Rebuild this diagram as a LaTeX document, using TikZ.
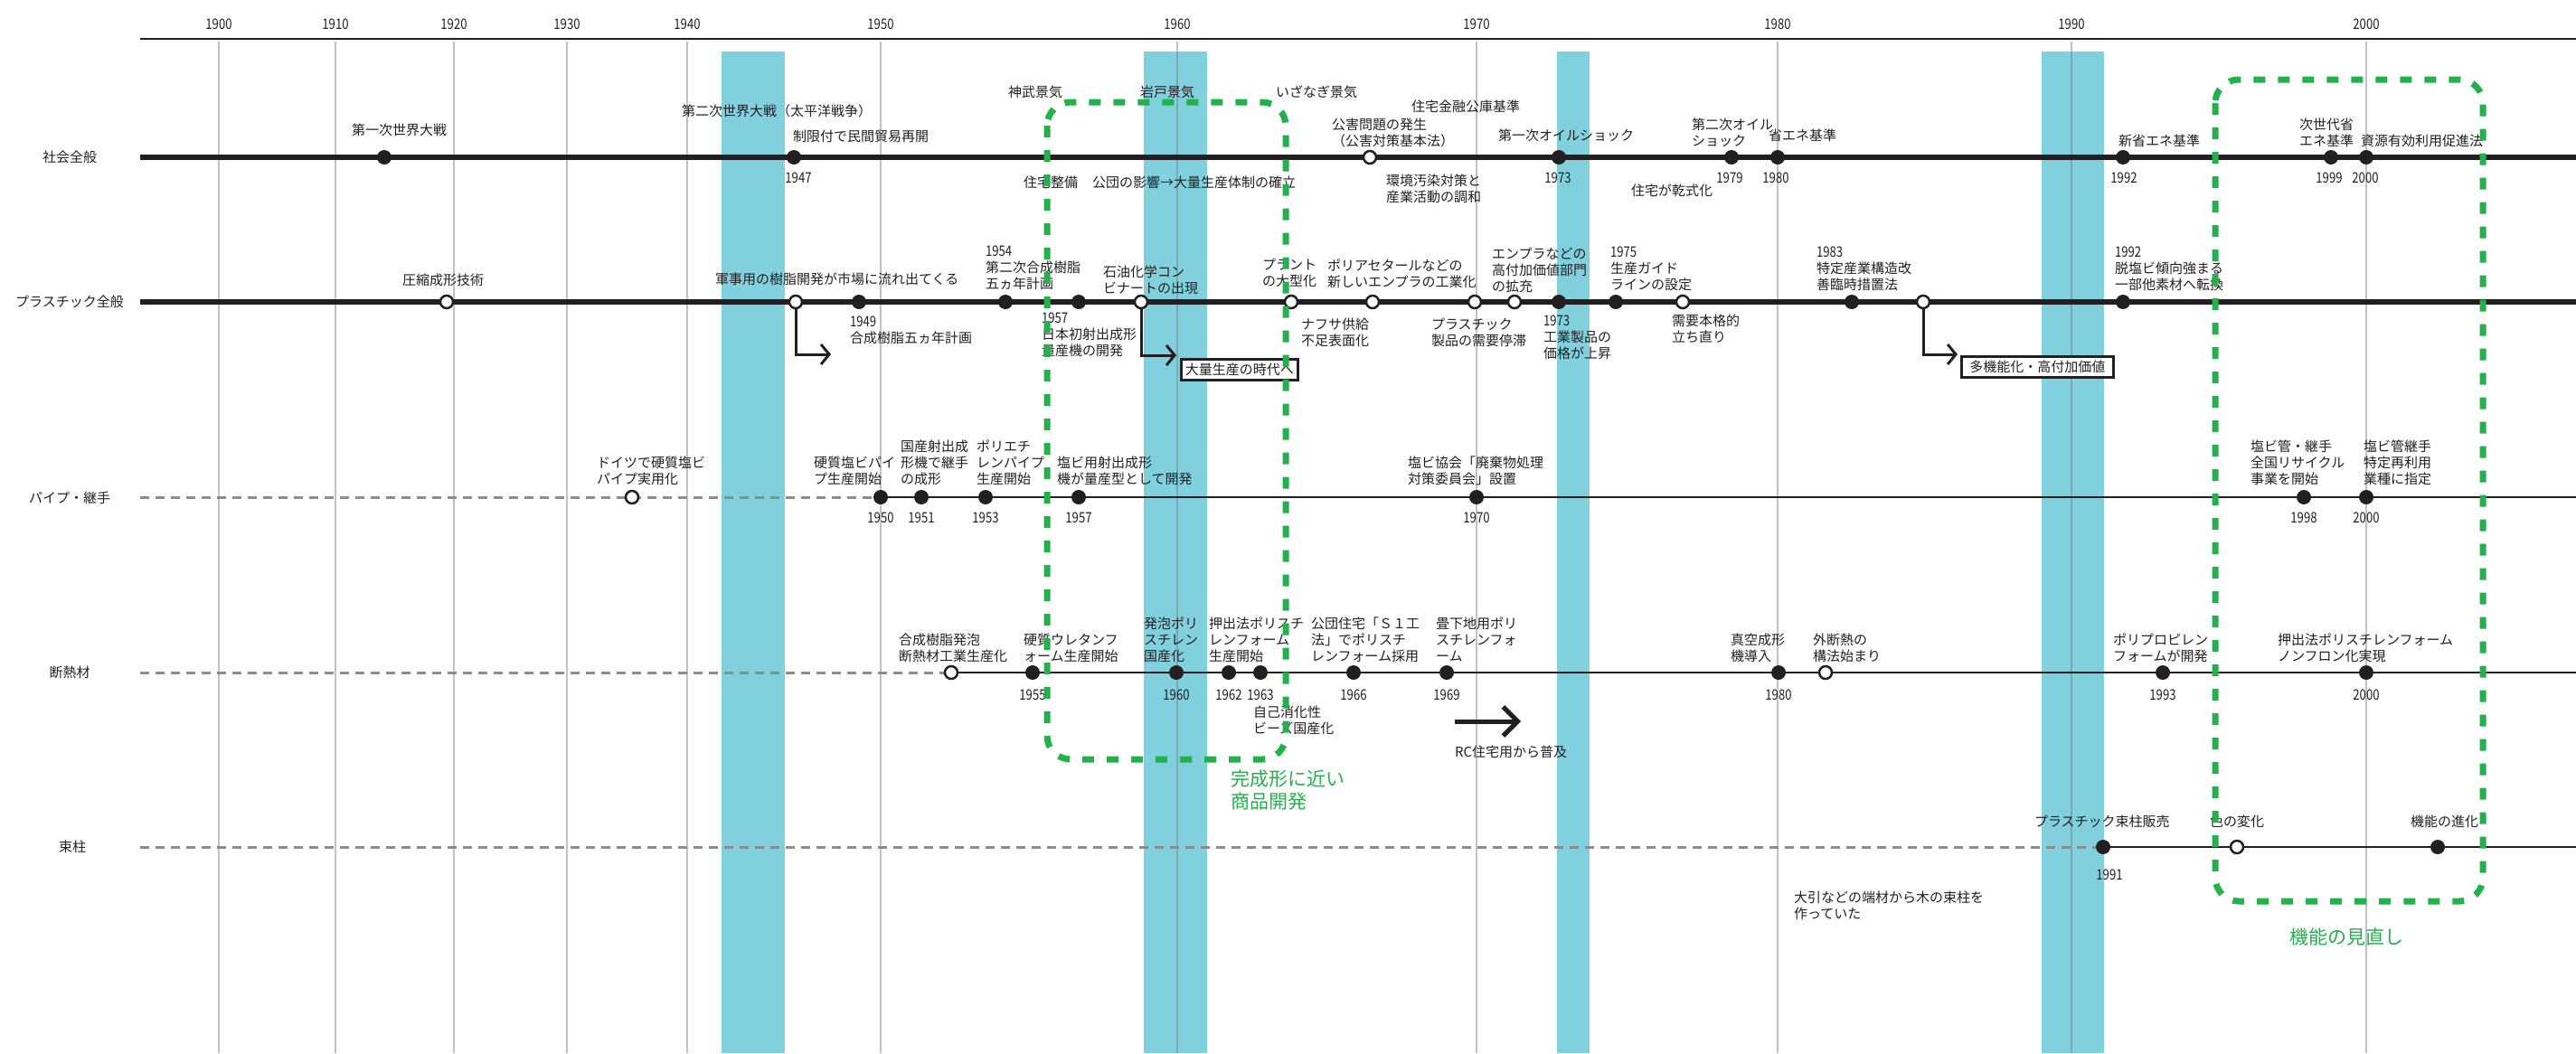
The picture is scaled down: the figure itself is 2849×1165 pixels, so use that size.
\documentclass[tikz,border=0pt]{standalone}
\usepackage{fontspec}
\setmainfont{Noto Sans CJK JP}
\newfontfamily\numfont{Noto Sans CJK JP}[FakeStretch=0.82]
\usetikzlibrary{arrows.meta}
\definecolor{ink}{RGB}{35,31,32}
\definecolor{dashgray}{RGB}{140,140,140}
\definecolor{gridgray}{RGB}{120,120,120}
\definecolor{bandcyan}{RGB}{128,209,221}
\definecolor{boxgreen}{RGB}{34,178,76}
\newcommand\mystrut{\rule[-2pt]{0pt}{13pt}}
\newcommand\nm[1]{{\numfont\fontsize{16}{18}\selectfont #1}}
\pgfdeclarelayer{bg}
\pgfdeclarelayer{fg}
\pgfdeclarelayer{topl}
\pgfsetlayers{bg,main,fg,topl}
\tikzset{
  lbl/.style={anchor=west, inner sep=0pt, outer sep=0pt, text=ink, font=\fontsize{15}{18}\selectfont, align=left, execute at begin node=\mystrut, execute at end node=\mystrut},
  yr/.style={anchor=center, inner sep=0pt, text=ink, font=\numfont\fontsize{16}{18}\selectfont},
  rowlbl/.style={anchor=center, inner sep=0pt, text=ink, font=\fontsize{15}{18}\selectfont},
  fdot/.style={circle, fill=ink, minimum size=16pt, inner sep=0pt},
  odot/.style={circle, draw=ink, fill=white, line width=2.5pt, minimum size=14pt, inner sep=0pt},
  rowthick/.style={draw=ink, line width=5.5pt},
  rowthin/.style={draw=ink, line width=2.8pt},
  rowdash/.style={draw=dashgray, line width=3pt, dash pattern=on 10pt off 7pt},
  gridln/.style={draw=gridgray, draw opacity=0.45, line width=1.6pt},
  band/.style={fill=bandcyan, draw=none},
  greenbox/.style={draw=boxgreen, line width=7pt, dash pattern=on 13pt off 14pt, rounded corners=26pt},
  greentext/.style={anchor=west, inner sep=0pt, text=boxgreen, font=\fontsize{21}{25}\selectfont, align=left},
  flowbox/.style={draw=ink, line width=2.5pt, fill=white, inner sep=0pt, text=ink, font=\fontsize{15}{18}\selectfont, minimum height=23pt, anchor=north west},
  elbow/.style={draw=ink, line width=3pt, -{Straight Barb[length=9pt, width=22pt]}},
  bigarrow/.style={draw=ink, line width=5pt, -{Straight Barb[length=16pt, width=32pt]}},
  axisln/.style={draw=ink, line width=2.5pt}
}
\begin{document}
\begin{tikzpicture}[x=1pt,y=-1pt]
\useasboundingbox (0,0) rectangle (2849,1165);
% ---------------- background: bands, grid, years
\begin{pgfonlayer}{bg}
  \fill[white] (0,0) rectangle (2849,1165);
  \fill[band] (798,57) rectangle (868,1165);
  \fill[band] (1265,57) rectangle (1335,1165);
  \fill[band] (1722,57) rectangle (1758,1165);
  \fill[band] (2258,57) rectangle (2327,1165);
  \foreach \x/\yy in {242/1900, 371/1910, 502/1920, 627/1930, 760/1940, 974/1950, 1302/1960, 1633/1970, 1966/1980, 2291/1990, 2617/2000}{
    \draw[gridln] (\x,46) -- (\x,1165);
    \node[yr] (yr\yy) at (\x,27) {\yy};
  }
\end{pgfonlayer}
% ---------------- coordinates of axis and rows
\coordinate (axL) at (155,43);  \coordinate (axR) at (2849,43);
\coordinate (sL) at (155,174);  \coordinate (sR) at (2849,174);
\coordinate (pL) at (155,334);  \coordinate (pR) at (2849,334);
\coordinate (qL) at (155,550);  \coordinate (qR) at (2849,550);
\coordinate (rL) at (155,744);  \coordinate (rR) at (2849,744);
\coordinate (uL) at (155,937);  \coordinate (uR) at (2849,937);
\coordinate (arr1) at (919,392);
\coordinate (rcA) at (1609,798); \coordinate (rcB) at (1682,798);
% ---------------- foreground nodes
\begin{pgfonlayer}{fg}
  % row labels
  \node[rowlbl] (lab-s) at (77,174) {社会全般};
  \node[rowlbl] (lab-p) at (77,334) {プラスチック全般};
  \node[rowlbl] (lab-q) at (77,551) {パイプ・継手};
  \node[rowlbl] (lab-r) at (77,744) {断熱材};
  \node[rowlbl] (lab-u) at (80,937) {束柱};
  % ===== society
  \node[fdot] (s1) at (425,174) {};
  \node[fdot] (s2) at (878,174) {};
  \node[odot] (s3) at (1515,174) {};
  \node[fdot] (s4) at (1724,174) {};
  \node[fdot] (s5) at (1915,174) {};
  \node[fdot] (s6) at (1966,174) {};
  \node[fdot] (s7) at (2348,174) {};
  \node[fdot] (s8) at (2578,174) {};
  \node[fdot] (s9) at (2617,174) {};
  \node[lbl] (t-s1) at (389,144) {第一次世界大戦};
  \node[lbl] (t-ww2) at (754,123) {第二次世界大戦（太平洋戦争）};
  \node[lbl] (t-s2) at (877,151) {制限付で民間貿易再開};
  \node[yr] (y-s2) at (883,197) {1947};
  \node[lbl] (t-jimmu) at (1115,102) {神武景気};
  \node[lbl] (t-iwato) at (1261,102) {岩戸景気};
  \node[lbl] (t-izanagi) at (1411,102) {いざなぎ景気};
  \node[lbl] (t-jutaku) at (1132,202) {住宅整備};
  \node[lbl] (t-kodan) at (1208,202) {公団の影響→大量生産体制の確立};
  \node[lbl] (t-s3) at (1473,147) {公害問題の発生\\（公害対策基本法）};
  \node[lbl] (t-kinyu) at (1561,118) {住宅金融公庫基準};
  \node[lbl] (t-kankyo) at (1533,209) {環境汚染対策と\\産業活動の調和};
  \node[lbl] (t-s4) at (1657,150) {第一次オイルショック};
  \node[yr] (y-s4) at (1723,197) {1973};
  \node[lbl] (t-s5) at (1871,147) {第二次オイル\\ショック};
  \node[yr] (y-s5) at (1913,197) {1979};
  \node[lbl] (t-s6) at (1956,150) {省エネ基準};
  \node[yr] (y-s6) at (1964,197) {1980};
  \node[lbl] (t-kanshiki) at (1804,211) {住宅が乾式化};
  \node[lbl] (t-s7) at (2343,156) {新省エネ基準};
  \node[yr] (y-s7) at (2349,197) {1992};
  \node[lbl] (t-s8) at (2543,147) {次世代省\\エネ基準};
  \node[yr] (y-s8) at (2576,197) {1999};
  \node[lbl] (t-s9) at (2611,156) {資源有効利用促進法};
  \node[yr] (y-s9) at (2616,197) {2000};
  % ===== plastics
  \node[odot] (p1) at (494,334) {};
  \node[lbl] (t-p1) at (445,310) {圧縮成形技術};
  \node[odot] (p2) at (880,334) {};
  \node[lbl] (t-p2) at (791,309) {軍事用の樹脂開発が市場に流れ出てくる};
  \node[fdot] (p3) at (950,334) {};
  \node[lbl] (t-p3) at (940,366) {\nm{1949}\\合成樹脂五ヵ年計画};
  \node[fdot] (p4) at (1112,334) {};
  \node[lbl] (t-p4) at (1090,297) {\nm{1954}\\第二次合成樹脂\\五ヵ年計画};
  \node[fdot] (p5) at (1193,334) {};
  \node[lbl] (t-p5) at (1152,371) {\nm{1957}\\日本初射出成形\\量産機の開発};
  \node[odot] (p6) at (1262,334) {};
  \node[lbl] (t-p6) at (1220,310) {石油化学コン\\ビナートの出現};
  \node[flowbox, minimum width=129pt] (b1) at (1305,396) {大量生産の時代へ};
  \node[odot] (p7) at (1428,334) {};
  \node[lbl] (t-p7) at (1396,302) {プラント\\の大型化};
  \node[lbl] (t-naphtha) at (1439,368) {ナフサ供給\\不足表面化};
  \node[odot] (p8) at (1518,334) {};
  \node[lbl] (t-p8) at (1468,303) {ポリアセタールなどの\\新しいエンプラの工業化};
  \node[odot] (p9) at (1631,334) {};
  \node[lbl] (t-p9) at (1583,368) {プラスチック\\製品の需要停滞};
  \node[odot] (p10) at (1675,334) {};
  \node[lbl] (t-p10) at (1650,299) {エンプラなどの\\高付加価値部門\\の拡充};
  \node[fdot] (p11) at (1724,334) {};
  \node[lbl] (t-p11) at (1707,374) {\nm{1973}\\工業製品の\\価格が上昇};
  \node[fdot] (p12) at (1787,334) {};
  \node[lbl] (t-p12) at (1781,298) {\nm{1975}\\生産ガイド\\ラインの設定};
  \node[odot] (p13) at (1861,334) {};
  \node[lbl] (t-p13) at (1849,364) {需要本格的\\立ち直り};
  \node[fdot] (p14) at (2048,334) {};
  \node[lbl] (t-p14) at (2009,298) {\nm{1983}\\特定産業構造改\\善臨時措置法};
  \node[odot] (p15) at (2127,334) {};
  \node[flowbox, minimum width=168pt] (b2) at (2168,393) {多機能化・高付加価値};
  \node[fdot] (p16) at (2348,334) {};
  \node[lbl] (t-p16) at (2339,298) {\nm{1992}\\脱塩ビ傾向強まる\\一部他素材へ転換};
  % ===== pipes
  \node[odot] (q1) at (699,550) {};
  \node[lbl] (t-q1) at (660,521.5) {ドイツで硬質塩ビ\\パイプ実用化};
  \node[fdot] (q2) at (974,550) {};
  \node[lbl] (t-q2) at (900,521.5) {硬質塩ビパイ\\プ生産開始};
  \node[yr] (y-q2) at (974,573) {1950};
  \node[fdot] (q3) at (1019,550) {};
  \node[lbl] (t-q3) at (996,512) {国産射出成\\形機で継手\\の成形};
  \node[yr] (y-q3) at (1019,573) {1951};
  \node[fdot] (q4) at (1090,550) {};
  \node[lbl] (t-q4) at (1080,512) {ポリエチ\\レンパイプ\\生産開始};
  \node[yr] (y-q4) at (1090,573) {1953};
  \node[fdot] (q5) at (1193,550) {};
  \node[lbl] (t-q5) at (1169,521.5) {塩ビ用射出成形\\機が量産型として開発};
  \node[yr] (y-q5) at (1193,573) {1957};
  \node[fdot] (q6) at (1633,550) {};
  \node[lbl] (t-q6) at (1557,521.5) {塩ビ協会「廃棄物処理\\対策委員会」設置};
  \node[yr] (y-q6) at (1633,573) {1970};
  \node[fdot] (q7) at (2548,550) {};
  \node[lbl] (t-q7) at (2489,512) {塩ビ管・継手\\全国リサイクル\\事業を開始};
  \node[yr] (y-q7) at (2548,573) {1998};
  \node[fdot] (q8) at (2617,550) {};
  \node[lbl] (t-q8) at (2614,512) {塩ビ管継手\\特定再利用\\業種に指定};
  \node[yr] (y-q8) at (2617,573) {2000};
  % ===== insulation
  \node[odot] (r1) at (1052,744) {};
  \node[lbl] (t-r1) at (994,717) {合成樹脂発泡\\断熱材工業生産化};
  \node[fdot] (r2) at (1142,744) {};
  \node[lbl] (t-r2) at (1132,717) {硬質ウレタンフ\\ォーム生産開始};
  \node[yr] (y-r2) at (1142,769) {1955};
  \node[fdot] (r3) at (1301,744) {};
  \node[lbl] (t-r3) at (1265,708) {発泡ポリ\\スチレン\\国産化};
  \node[yr] (y-r3) at (1301,769) {1960};
  \node[fdot] (r4) at (1359,744) {};
  \node[lbl] (t-r4) at (1337,708) {押出法ポリスチ\\レンフォーム\\生産開始};
  \node[yr] (y-r4) at (1359,769) {1962};
  \node[fdot] (r5) at (1394,744) {};
  \node[yr] (y-r5) at (1394,769) {1963};
  \node[lbl] (t-r5) at (1386,797) {自己消化性\\ビーズ国産化};
  \node[fdot] (r6) at (1497,744) {};
  \node[lbl] (t-r6) at (1450,708) {公団住宅「Ｓ１工\\法」でポリスチ\\レンフォーム採用};
  \node[yr] (y-r6) at (1497,769) {1966};
  \node[fdot] (r7) at (1600,744) {};
  \node[lbl] (t-r7) at (1588,708) {畳下地用ポリ\\スチレンフォ\\ーム};
  \node[yr] (y-r7) at (1600,769) {1969};
  \node[lbl] (t-rc) at (1609,832) {RC住宅用から普及};
  \node[fdot] (r8) at (1967,744) {};
  \node[lbl] (t-r8) at (1914,717) {真空成形\\機導入};
  \node[yr] (y-r8) at (1967,769) {1980};
  \node[odot] (r9) at (2019,744) {};
  \node[lbl] (t-r9) at (2005,717) {外断熱の\\構法始まり};
  \node[fdot] (r10) at (2392,744) {};
  \node[lbl] (t-r10) at (2337,717) {ポリプロピレン\\フォームが開発};
  \node[yr] (y-r10) at (2392,769) {1993};
  \node[fdot] (r11) at (2617,744) {};
  \node[lbl] (t-r11) at (2519,717) {押出法ポリスチレンフォーム\\ノンフロン化実現};
  \node[yr] (y-r11) at (2617,769) {2000};
  % ===== posts
  \node[fdot] (u1) at (2326,937) {};
  \node[lbl] (t-u1) at (2250,909) {プラスチック束柱販売};
  \node[yr] (y-u1) at (2333,968) {1991};
  \node[odot] (u2) at (2474,937) {};
  \node[lbl] (t-u2) at (2444,909) {色の変化};
  \node[fdot] (u3) at (2696,937) {};
  \node[lbl] (t-u3) at (2666,909) {機能の進化};
  \node[lbl] (t-wood) at (1984,1002) {大引などの端材から木の束柱を\\作っていた};
\end{pgfonlayer}
% ---------------- main layer: axis, rows, arrows
\draw[axisln] (axL) -- (axR);
\draw[rowthick] (sL) -- (sR);
\draw[rowthick] (pL) -- (pR);
\draw[rowdash] (qL) -- (q2);
\draw[rowthin] (q2) -- (qR);
\draw[rowdash] (rL) -- (r1);
\draw[rowthin] (r1) -- (rR);
\draw[rowdash] (uL) -- (u1);
\draw[rowthin] (u1) -- (uR);
\draw[elbow] (p2.south) |- (arr1);
\draw[elbow] (p6.south) |- ([shift={(-4pt,3pt)}]b1.north west);
\draw[elbow] (p15.south) |- ([shift={(-3pt,1pt)}]b2.north west);
\draw[bigarrow] (rcA) -- (rcB);
% ---------------- top layer: green dashed groups
\begin{pgfonlayer}{topl}
  \draw[greenbox] (1158,113) rectangle (1422,840);
  \draw[greenbox] (2450,88) rectangle (2746,997);
  \node[greentext] (g1) at (1361,874.5) {完成形に近い\\商品開発};
  \node[greentext] (g2) at (2532,1036) {機能の見直し};
\end{pgfonlayer}
\end{tikzpicture}
\end{document}
